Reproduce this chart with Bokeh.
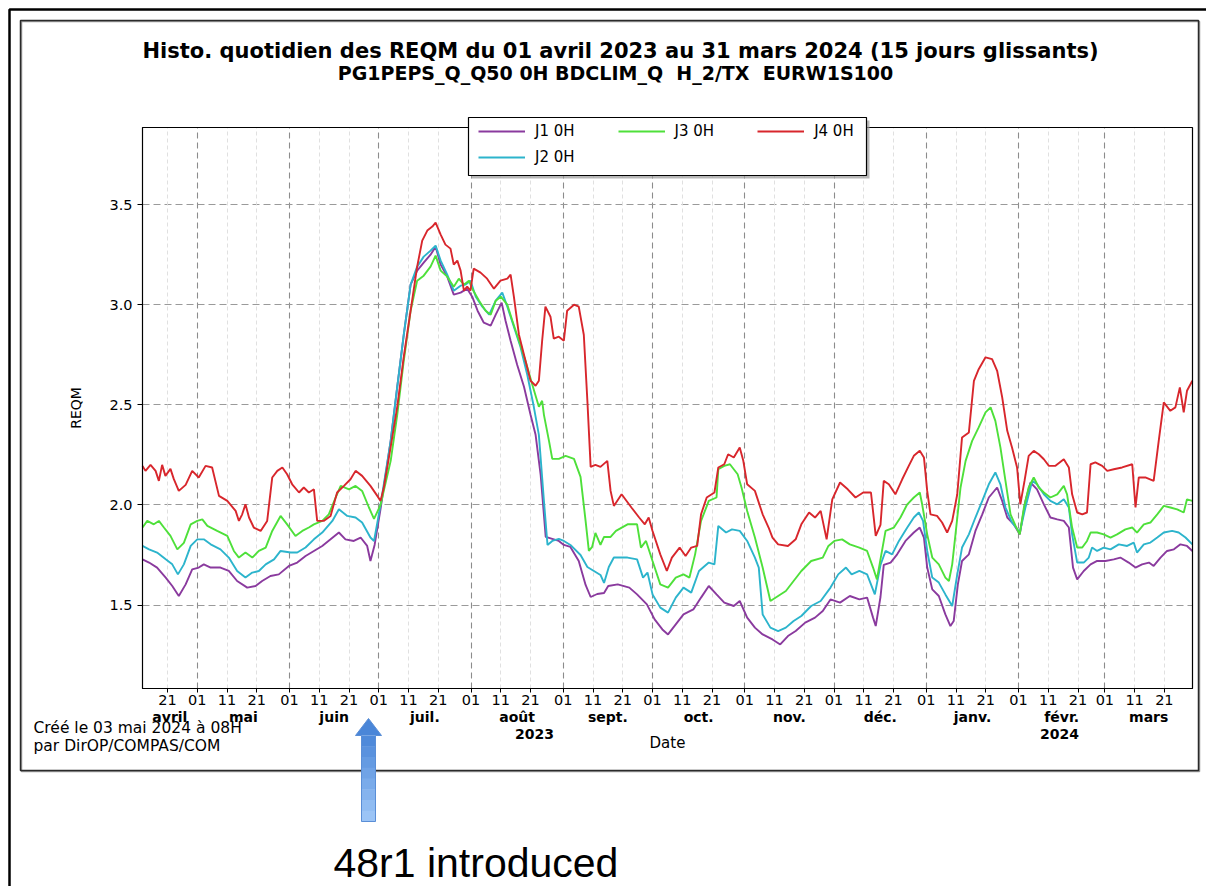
import datetime as dt

from bokeh.plotting import figure
from bokeh.models import (Range1d, FixedTicker, Grid, Label, BoxAnnotation,
                          PolyAnnotation, Legend, LegendItem, NumeralTickFormatter)
from bokeh.embed import file_html
from bokeh.resources import INLINE

# Day offsets are counted from 1 April 2023.
ORIGIN = dt.date(2023, 4, 1)

j1_days = [11.6, 13.8, 16.5, 19.4, 21.6, 23.8, 26.1, 28.3, 30.5, 32.2, 34.5, 37.8, 40.6, 43.4, 46.8, 49.6,
           51.8, 54.6, 57.4, 60.8, 63.6, 66.4, 69.2, 72.0, 74.8, 77.6, 79.8, 82.6, 84.9, 87.1, 88.2, 89.6,
           91.6, 95.0, 97.2, 99.4, 101.7, 103.9, 106.1, 108.4, 110.1, 111.8, 114.0, 116.2, 118.5, 120.7,
           122.4, 124.2, 126.3, 128.6, 130.3, 132.3, 133.6, 135.3, 137.5, 139.8, 142.0, 143.7, 145.4, 147.1,
           149.3, 151.5, 153.2, 155.4, 158.2, 160.5, 162.2, 164.4, 166.7, 168.1, 171.3, 175.2, 177.8, 181.1,
           183.7, 186.3, 188.2, 190.8, 193.4, 196.7, 199.3, 201.9, 204.5, 207.1, 210.3, 212.3, 214.8, 217.4,
           220.0, 223.3, 225.9, 228.5, 231.1, 234.3, 237.6, 240.2, 242.8, 246.0, 249.3, 252.5, 255.1, 257.1,
           258.0, 259.6, 260.7, 263.0, 265.2, 268.0, 270.8, 272.8, 274.2, 275.3, 277.0, 279.2, 281.4, 283.1,
           284.2, 285.6, 287.0, 289.3, 291.5, 293.8, 296.0, 298.8, 300.5, 302.2, 304.4, 306.4, 308.3, 310.0,
           312.2, 314.5, 316.7, 319.0, 321.2, 322.9, 324.3, 325.7, 327.9, 330.2, 332.4, 335.2, 338.0, 340.2,
           343.0, 345.3, 347.5, 349.8, 351.4, 353.7, 355.9, 358.2, 360.4, 362.6, 364.4]
j1_reqm = [1.728, 1.712, 1.687, 1.637, 1.595, 1.545, 1.603, 1.678, 1.687, 1.703, 1.687, 1.687, 1.670, 1.620,
           1.587, 1.595, 1.620, 1.645, 1.653, 1.695, 1.712, 1.745, 1.770, 1.795, 1.828, 1.862, 1.828, 1.820,
           1.837, 1.795, 1.720, 1.800, 1.980, 2.320, 2.590, 2.850, 3.100, 3.170, 3.210, 3.250, 3.290, 3.200,
           3.140, 3.050, 3.060, 3.080, 3.040, 2.970, 2.910, 2.895, 2.950, 3.010, 2.920, 2.820, 2.700, 2.590,
           2.450, 2.350, 2.150, 1.840, 1.830, 1.820, 1.800, 1.790, 1.720, 1.600, 1.540, 1.555, 1.560, 1.595,
           1.603, 1.587, 1.553, 1.503, 1.428, 1.378, 1.353, 1.403, 1.453, 1.478, 1.537, 1.595, 1.553, 1.512,
           1.495, 1.520, 1.437, 1.387, 1.353, 1.328, 1.303, 1.345, 1.370, 1.412, 1.437, 1.470, 1.528, 1.512,
           1.545, 1.528, 1.537, 1.437, 1.395, 1.540, 1.700, 1.712, 1.753, 1.820, 1.862, 1.887, 1.837, 1.687,
           1.578, 1.545, 1.453, 1.395, 1.420, 1.603, 1.720, 1.753, 1.870, 1.953, 2.037, 2.087, 2.020, 1.937,
           1.903, 1.853, 2.020, 2.112, 2.078, 2.003, 1.937, 1.928, 1.920, 1.887, 1.687, 1.628, 1.670, 1.703,
           1.720, 1.720, 1.728, 1.737, 1.712, 1.687, 1.703, 1.712, 1.695, 1.737, 1.770, 1.778, 1.803, 1.795,
           1.770]

j2_days = [11.6, 13.8, 16.5, 19.4, 21.6, 23.5, 25.5, 27.8, 30.0, 32.2, 34.5, 37.8, 40.6, 43.4, 46.2, 48.5,
           50.7, 53.0, 55.8, 58.0, 61.4, 63.6, 66.4, 69.2, 72.0, 75.4, 77.6, 80.4, 83.2, 85.4, 88.2, 89.4,
           91.6, 95.0, 97.2, 99.4, 101.7, 103.9, 106.1, 108.4, 110.1, 111.8, 114.0, 116.2, 118.5, 120.1,
           121.8, 123.6, 125.8, 128.1, 130.3, 132.5, 134.2, 136.4, 138.6, 140.9, 143.1, 144.8, 146.5, 147.7,
           149.3, 151.5, 153.2, 155.4, 158.8, 161.1, 163.3, 165.5, 166.7, 168.3, 170.0, 174.6, 177.8, 179.8,
           181.3, 183.0, 185.6, 188.2, 190.8, 193.4, 196.0, 198.6, 201.9, 203.8, 205.1, 207.7, 209.7, 212.3,
           214.8, 217.4, 218.7, 220.0, 222.6, 225.2, 227.8, 230.4, 233.0, 236.3, 239.5, 242.8, 245.4, 248.0,
           249.9, 252.5, 255.1, 257.7, 259.6, 261.3, 263.5, 265.8, 268.6, 270.8, 272.5, 273.9, 275.3, 277.0,
           279.2, 281.4, 283.7, 285.4, 287.0, 289.3, 291.5, 293.8, 296.0, 298.2, 299.9, 301.6, 303.8, 306.4,
           308.3, 310.6, 312.2, 314.5, 316.7, 319.0, 321.2, 322.9, 324.0, 325.7, 327.9, 329.6, 330.7, 332.4,
           334.6, 336.9, 339.7, 342.5, 344.7, 345.8, 348.1, 350.3, 352.6, 354.8, 357.6, 359.8, 362.1, 364.4]
j2_reqm = [1.795, 1.778, 1.762, 1.728, 1.703, 1.653, 1.703, 1.795, 1.828, 1.828, 1.803, 1.778, 1.737, 1.670,
           1.637, 1.662, 1.670, 1.703, 1.728, 1.770, 1.762, 1.762, 1.787, 1.828, 1.862, 1.920, 1.978, 1.945,
           1.937, 1.912, 1.837, 1.820, 2.000, 2.320, 2.590, 2.850, 3.100, 3.190, 3.240, 3.270, 3.295, 3.220,
           3.150, 3.070, 3.095, 3.100, 3.120, 3.040, 2.990, 2.950, 3.020, 3.060, 2.990, 2.890, 2.790, 2.650,
           2.490, 2.350, 2.020, 1.800, 1.820, 1.830, 1.820, 1.800, 1.750, 1.690, 1.670, 1.650, 1.610, 1.690,
           1.737, 1.737, 1.728, 1.637, 1.662, 1.553, 1.487, 1.462, 1.537, 1.587, 1.562, 1.670, 1.712, 1.703,
           1.895, 1.862, 1.878, 1.870, 1.820, 1.737, 1.687, 1.453, 1.387, 1.370, 1.387, 1.420, 1.445, 1.495,
           1.520, 1.587, 1.653, 1.687, 1.653, 1.670, 1.653, 1.553, 1.700, 1.770, 1.753, 1.820, 1.887, 1.937,
           1.962, 1.920, 1.770, 1.637, 1.612, 1.553, 1.495, 1.653, 1.787, 1.853, 1.937, 2.020, 2.103, 2.162,
           2.103, 1.987, 1.912, 1.862, 1.987, 2.120, 2.103, 2.053, 2.020, 2.003, 2.028, 1.987, 1.853, 1.712,
           1.712, 1.737, 1.787, 1.770, 1.787, 1.778, 1.803, 1.795, 1.812, 1.762, 1.803, 1.812, 1.837, 1.862,
           1.870, 1.862, 1.837, 1.803]

j3_days = [11.6, 13.2, 15.4, 17.1, 18.8, 21.0, 23.3, 25.5, 27.8, 30.0, 31.7, 33.4, 36.7, 40.1, 42.3, 44.0,
           46.2, 48.5, 50.7, 53.0, 55.2, 58.0, 60.2, 63.0, 65.3, 67.5, 69.2, 72.0, 74.2, 76.5, 78.2, 81.0,
           83.2, 85.4, 87.7, 89.4, 91.6, 95.0, 97.2, 99.4, 101.7, 103.9, 106.1, 108.4, 110.1, 111.8, 114.0,
           116.2, 117.9, 119.6, 121.3, 122.4, 124.7, 126.9, 128.6, 130.3, 132.0, 134.2, 135.9, 138.1, 140.3,
           142.6, 144.8, 145.9, 146.5, 148.2, 149.3, 151.5, 153.8, 156.6, 158.8, 160.5, 161.6, 162.7, 163.8,
           165.5, 166.7, 168.9, 170.7, 174.6, 177.8, 179.1, 180.8, 183.0, 185.6, 188.2, 190.8, 193.4, 195.4,
           197.3, 199.3, 201.9, 204.5, 205.1, 207.1, 209.0, 211.6, 212.9, 214.8, 217.4, 220.0, 222.6, 225.2,
           227.8, 230.4, 233.0, 236.3, 240.2, 242.1, 244.1, 246.7, 249.3, 252.5, 255.1, 257.1, 258.4, 261.3,
           264.1, 266.3, 268.6, 270.8, 272.8, 273.6, 275.3, 277.0, 279.2, 281.4, 282.6, 283.7, 284.8, 286.5,
           288.2, 290.4, 292.6, 294.9, 296.6, 298.2, 299.9, 301.6, 303.3, 305.0, 306.4, 307.8, 309.4, 311.1,
           312.8, 314.5, 316.7, 319.0, 321.2, 322.3, 324.0, 325.7, 327.4, 329.0, 330.2, 332.4, 334.6, 336.9,
           339.1, 341.9, 344.2, 345.8, 348.1, 350.3, 352.6, 354.8, 357.0, 359.3, 361.5, 362.6, 364.4]
j3_reqm = [1.887, 1.920, 1.903, 1.920, 1.887, 1.845, 1.778, 1.810, 1.903, 1.920, 1.928, 1.895, 1.870, 1.845,
           1.770, 1.737, 1.762, 1.737, 1.770, 1.787, 1.870, 1.945, 1.903, 1.845, 1.870, 1.887, 1.903, 1.920,
           1.953, 2.037, 2.095, 2.078, 2.095, 2.070, 1.987, 1.930, 2.000, 2.220, 2.450, 2.720, 2.970, 3.120,
           3.145, 3.190, 3.245, 3.170, 3.140, 3.090, 3.130, 3.100, 3.120, 3.080, 3.020, 2.970, 2.950, 3.020,
           3.040, 3.000, 2.920, 2.820, 2.720, 2.600, 2.490, 2.520, 2.450, 2.320, 2.230, 2.230, 2.245, 2.230,
           2.140, 1.920, 1.770, 1.790, 1.860, 1.800, 1.840, 1.840, 1.870, 1.903, 1.903, 1.787, 1.820, 1.720,
           1.603, 1.587, 1.637, 1.653, 1.637, 1.753, 1.920, 2.020, 2.037, 2.178, 2.195, 2.203, 2.153, 2.087,
           1.970, 1.837, 1.687, 1.520, 1.545, 1.570, 1.620, 1.670, 1.720, 1.737, 1.795, 1.820, 1.828, 1.803,
           1.787, 1.770, 1.687, 1.628, 1.870, 1.887, 1.937, 2.003, 2.037, 2.062, 2.003, 1.853, 1.737, 1.703,
           1.637, 1.620, 1.703, 1.853, 2.087, 2.220, 2.320, 2.387, 2.462, 2.487, 2.420, 2.287, 2.120, 1.953,
           1.895, 1.853, 1.987, 2.087, 2.137, 2.087, 2.062, 2.037, 2.053, 2.095, 2.053, 1.887, 1.787, 1.787,
           1.820, 1.862, 1.862, 1.853, 1.837, 1.853, 1.878, 1.887, 1.862, 1.903, 1.912, 1.953, 1.995, 1.987,
           1.978, 1.962, 2.028, 2.020]

j4_days = [11.6, 12.6, 14.3, 16.0, 17.1, 18.2, 19.3, 21.0, 22.1, 23.8, 26.1, 28.3, 30.5, 32.8, 35.0, 37.3,
           40.1, 42.9, 44.0, 45.1, 46.2, 47.4, 49.0, 51.3, 53.5, 55.2, 56.9, 58.6, 60.2, 61.9, 64.2, 65.8,
           67.5, 69.2, 70.3, 72.5, 74.8, 77.0, 79.3, 81.5, 83.2, 85.4, 88.2, 90.5, 91.6, 92.7, 95.0, 97.2,
           99.4, 101.7, 103.9, 105.6, 107.3, 109.0, 110.1, 111.8, 113.4, 115.1, 116.2, 117.4, 118.5, 119.6,
           120.7, 121.8, 122.9, 125.2, 127.4, 129.7, 131.9, 134.2, 135.3, 136.4, 138.1, 140.3, 142.0, 143.7,
           144.8, 145.9, 147.0, 148.7, 149.8, 151.5, 153.2, 154.3, 156.6, 158.2, 159.9, 161.1, 162.2, 163.8,
           165.5, 167.8, 168.9, 170.0, 172.6, 175.9, 178.5, 180.4, 181.7, 183.0, 185.6, 187.8, 189.5, 192.1,
           194.1, 196.0, 198.0, 199.3, 201.2, 203.8, 205.1, 207.1, 208.4, 210.3, 212.3, 213.5, 214.8, 217.4,
           220.0, 222.0, 223.3, 225.2, 228.5, 231.1, 233.0, 235.6, 237.6, 239.5, 241.5, 243.4, 246.0, 248.6,
           251.2, 253.8, 256.4, 258.0, 259.6, 260.7, 262.4, 264.6, 266.9, 269.1, 270.8, 272.8, 274.2, 275.3,
           276.4, 278.6, 280.3, 282.0, 283.7, 285.4, 287.0, 289.3, 291.0, 292.6, 294.9, 297.1, 298.8, 300.5,
           302.2, 303.8, 305.5, 306.6, 308.0, 309.4, 311.1, 312.8, 314.5, 316.2, 318.4, 321.2, 322.9, 324.0,
           325.7, 327.4, 329.0, 330.2, 331.8, 334.1, 335.8, 338.0, 340.8, 344.2, 345.3, 346.4, 348.6, 351.4,
           353.1, 354.8, 357.0, 358.7, 360.2, 361.5, 362.6, 364.4]
j4_reqm = [2.195, 2.170, 2.200, 2.170, 2.120, 2.200, 2.145, 2.180, 2.130, 2.070, 2.100, 2.170, 2.137, 2.195,
           2.187, 2.045, 2.020, 1.970, 1.920, 1.953, 2.003, 1.937, 1.887, 1.870, 1.920, 2.137, 2.170, 2.187,
           2.153, 2.103, 2.062, 2.087, 2.062, 2.078, 1.920, 1.920, 1.945, 2.062, 2.095, 2.128, 2.170, 2.145,
           2.095, 2.045, 2.020, 2.087, 2.290, 2.490, 2.740, 2.970, 3.190, 3.320, 3.370, 3.390, 3.410, 3.350,
           3.300, 3.280, 3.200, 3.220, 3.170, 3.070, 3.090, 3.070, 3.180, 3.160, 3.130, 3.080, 3.120, 3.130,
           3.150, 3.040, 2.850, 2.720, 2.620, 2.595, 2.620, 2.820, 2.990, 2.940, 2.830, 2.840, 2.820, 2.970,
           3.000, 2.990, 2.850, 2.520, 2.190, 2.200, 2.190, 2.220, 2.070, 1.995, 2.053, 1.987, 1.937, 1.903,
           1.937, 1.870, 1.753, 1.670, 1.737, 1.787, 1.745, 1.787, 1.795, 1.953, 2.037, 2.062, 2.187, 2.203,
           2.253, 2.237, 2.287, 2.220, 2.103, 2.070, 1.953, 1.887, 1.837, 1.803, 1.795, 1.828, 1.903, 1.962,
           1.937, 1.970, 1.828, 2.028, 2.112, 2.078, 2.037, 2.062, 2.062, 1.845, 1.900, 2.120, 2.103, 2.053,
           2.128, 2.195, 2.245, 2.270, 2.237, 2.070, 1.953, 1.945, 1.912, 1.862, 1.920, 2.053, 2.337, 2.362,
           2.620, 2.678, 2.737, 2.728, 2.670, 2.537, 2.370, 2.287, 2.187, 2.003, 2.120, 2.245, 2.270, 2.253,
           2.228, 2.195, 2.195, 2.228, 2.187, 2.053, 1.962, 1.953, 1.962, 2.203, 2.212, 2.195, 2.170, 2.178,
           2.187, 2.203, 1.987, 2.137, 2.137, 2.120, 2.320, 2.512, 2.470, 2.487, 2.587, 2.462, 2.570, 2.620]

series_names = ["J1 0H", "J2 0H", "J3 0H", "J4 0H"]
series_colors = ["#8a3a9e", "#2cb4cc", "#4ee03a", "#d8262c"]

month_names = ["avril", "mai", "juin", "juil.", "août", "sept.",
               "oct.", "nov.", "déc.", "janv.", "févr.", "mars"]
year_names = ["2023", "2024"]
tick_days_of_month = [1, 11, 21]
y_ticks = [1.5, 2.0, 2.5, 3.0, 3.5]

TITLE = "Histo. quotidien des REQM du 01 avril 2023 au 31 mars 2024 (15 jours glissants)"
# a no-break space keeps the wider gaps between the code groups
SUBTITLE = "PG1PEPS_Q_Q50 0H BDCLIM_Q\u00a0 H_2/TX\u00a0 EURW1S100"
CREATED = "Créé le 03 mai 2024 à 08H"
AUTHOR = "par DirOP/COMPAS/COM"
NOTE = "48r1 introduced"

# visible extent of the chart axes
X_START, X_END = 11.6, 364.45
Y_START, Y_END = 1.083, 3.885

# page geometry (pixels, origin top-left); the chart box sits inside the page
W, H = 1206, 886
BL, BT, BR, BB = 142, 127, 1192, 688
kx = (X_END - X_START) / (BR - BL)
ky = (Y_END - Y_START) / (BB - BT)
PAGE_X = (X_START - BL * kx, X_END + (W - BR) * kx)
PAGE_Y = (Y_START - (H - BB) * ky, Y_END + BT * ky)


def sx(px):
    return px


def sy(py):
    return H - py


def month_start(i):
    y = 2023 + (3 + i) // 12
    m = (3 + i) % 12 + 1
    return dt.date(y, m, 1)


def offset(d):
    return (d - ORIGIN).days


month_starts = [offset(month_start(i)) for i in range(13)]
tick_days, tick_text = [], {}
for i in range(12):
    ms = month_start(i)
    for dd in tick_days_of_month:
        t = offset(dt.date(ms.year, ms.month, dd))
        if X_START <= t <= X_END:
            tick_days.append(t)
            tick_text[t] = f"{dd:02d}"
minor_days = [t for t in tick_days if t not in month_starts]
grid_months = [t for t in month_starts if X_START < t < X_END]

p = figure(width=W, height=H, output_backend="svg", toolbar_location=None, title=None,
           x_range=Range1d(*PAGE_X), y_range=Range1d(*PAGE_Y),
           min_border_left=0, min_border_right=0, min_border_top=0, min_border_bottom=0)
p.background_fill_color = "white"
p.border_fill_color = "white"
p.outline_line_color = None

# axes pinned to the chart box
xa = p.xaxis[0]
xa.fixed_location = Y_START
xa.bounds = (X_START, X_END)
xa.ticker = FixedTicker(ticks=tick_days, minor_ticks=[])
xa.major_label_overrides = tick_text
xa.major_label_text_font = "DejaVu Sans"
xa.major_label_text_font_size = "14.5px"
xa.major_label_text_color = "black"
xa.major_tick_out = 4
xa.major_tick_in = 0
xa.major_label_standoff = 2
xa.axis_line_color = "black"
xa.major_tick_line_color = "black"
xa.axis_label = "Date"
xa.axis_label_text_font = "DejaVu Sans"
xa.axis_label_text_font_size = "15px"
xa.axis_label_text_font_style = "normal"
xa.axis_label_text_color = "black"
xa.axis_label_standoff = 26

ya = p.yaxis[0]
ya.fixed_location = X_START
ya.bounds = (Y_START, Y_END)
ya.ticker = FixedTicker(ticks=y_ticks, minor_ticks=[])
ya.formatter = NumeralTickFormatter(format="0.0")
ya.major_label_text_font = "DejaVu Sans"
ya.major_label_text_font_size = "14.5px"
ya.major_label_text_color = "black"
ya.major_tick_out = 5
ya.major_tick_in = 0
ya.major_label_standoff = 5
ya.axis_line_color = "black"
ya.major_tick_line_color = "black"
ya.axis_label = "REQM"
ya.axis_label_text_font = "DejaVu Sans"
ya.axis_label_text_font_size = "14px"
ya.axis_label_text_font_style = "normal"
ya.axis_label_text_color = "black"
ya.axis_label_standoff = 22

# grids limited to the chart box
p.xgrid[0].ticker = FixedTicker(ticks=grid_months)
p.xgrid[0].cross_bounds = (Y_START, Y_END)
p.xgrid[0].grid_line_color = "#8c8c8c"
p.xgrid[0].grid_line_dash = "6 4"
p.xgrid[0].grid_line_width = 1.1
p.add_layout(Grid(dimension=0, ticker=FixedTicker(ticks=minor_days), cross_bounds=(Y_START, Y_END),
                  grid_line_color="#dcdcdc", grid_line_dash="4 3", grid_line_width=0.9))
p.ygrid[0].ticker = FixedTicker(ticks=y_ticks)
p.ygrid[0].cross_bounds = (X_START, X_END)
p.ygrid[0].grid_line_color = "#9a9a9a"
p.ygrid[0].grid_line_dash = "7 4"
p.ygrid[0].grid_line_width = 1.2

# series
renderers = []
for xs, ys, color in zip([j1_days, j2_days, j3_days, j4_days],
                         [j1_reqm, j2_reqm, j3_reqm, j4_reqm], series_colors):
    renderers.append(p.line(xs, ys, line_color=color, line_width=1.9))

# chart box outline
p.add_layout(BoxAnnotation(left=X_START, right=X_END, bottom=Y_START, top=Y_END,
                           fill_alpha=0, line_color="black", line_alpha=1, line_width=1.2))

# month and year labels under the day ticks
for i, name in enumerate(month_names):
    lo = max(X_START, month_starts[i])
    hi = min(X_END, month_starts[i + 1])
    p.add_layout(Label(x=(lo + hi) / 2, y=sy(716), x_units="data", y_units="screen", text=name,
                       text_font="DejaVu Sans", text_font_size="14px", text_font_style="bold",
                       text_align="center", text_baseline="middle", text_color="black"))
new_year = offset(dt.date(2024, 1, 1))
for (lo, hi), name in zip([(X_START, new_year), (new_year, X_END)], year_names):
    p.add_layout(Label(x=(lo + hi) / 2, y=sy(733), x_units="data", y_units="screen", text=name,
                       text_font="DejaVu Sans", text_font_size="14px", text_font_style="bold",
                       text_align="center", text_baseline="middle", text_color="black"))


def box(l, t, r, b, **kw):
    p.add_layout(BoxAnnotation(left=sx(l), right=sx(r), top=sy(t), bottom=sy(b),
                               left_units="screen", right_units="screen",
                               top_units="screen", bottom_units="screen", **kw))


def text(px, py, s, size, bold=False, align="left", font="DejaVu Sans", baseline="middle"):
    p.add_layout(Label(x=sx(px), y=sy(py), x_units="screen", y_units="screen", text=s,
                       text_font=font, text_font_size=f"{size}px",
                       text_font_style="bold" if bold else "normal",
                       text_align=align, text_baseline=baseline, text_color="black"))


# page frames
box(9, 9, 1215, 895, fill_alpha=0, line_color="black", line_alpha=1, line_width=2.5)
box(21, 21, 1199, 771, fill_alpha=0, line_color="#9a9a9a", line_alpha=1, line_width=1.5)
box(20, 20, 1198, 770, fill_alpha=0, line_color="#2a2a2a", line_alpha=1, line_width=1.5)

# legend box with drop shadow
box(471, 120, 869, 178, fill_color="#9a9a9a", fill_alpha=0.7, line_alpha=0)
box(468, 117, 866, 175, fill_color="white", fill_alpha=1, line_color="black", line_alpha=1,
    line_width=1.2)

leg_common = dict(orientation="horizontal", padding=0, margin=0, spacing=43,
                  glyph_width=47, glyph_height=20, label_height=20, label_standoff=10,
                  label_text_font="DejaVu Sans", label_text_font_size="15px",
                  label_text_color="black",
                  border_line_alpha=0, background_fill_alpha=0)
legend_row1 = Legend(items=[LegendItem(label=series_names[0], renderers=[renderers[0]]),
                            LegendItem(label=series_names[2], renderers=[renderers[2]]),
                            LegendItem(label=series_names[3], renderers=[renderers[3]])],
                     location=(sx(478), sy(141)), **leg_common)
legend_row2 = Legend(items=[LegendItem(label=series_names[1], renderers=[renderers[1]])],
                     location=(sx(478), sy(167)), **leg_common)
p.add_layout(legend_row1)
p.add_layout(legend_row2)

# titles and credits
text(620, 50, TITLE, 21, bold=True, align="center")
text(615, 72, SUBTITLE, 19, bold=True, align="center")
text(33, 727, CREATED, 15.5)
text(33, 745, AUTHOR, 15.5)

# upward arrow marking the model change, shaded darker at the top
ax_c, tip, head_base, base = 368, 718, 735, 821
shaft_l, shaft_r = ax_c - 7, ax_c + 7
n_bands = 8
top_rgb, bottom_rgb = (74, 134, 216), (160, 200, 248)
band_h = (base - head_base) / n_bands
for k in range(n_bands):
    f = (k + 0.5) / n_bands
    rgb = tuple(round(a + (b - a) * f) for a, b in zip(top_rgb, bottom_rgb))
    box(shaft_l, head_base + k * band_h, shaft_r, head_base + (k + 1) * band_h + 0.5,
        fill_color="#%02x%02x%02x" % rgb, fill_alpha=1, line_alpha=0)
head_x = [ax_c, ax_c + 13, ax_c - 13]
head_y = [tip, head_base, head_base]
p.add_layout(PolyAnnotation(xs=[sx(v) for v in head_x], ys=[sy(v) for v in head_y],
                            xs_units="screen", ys_units="screen",
                            fill_color="#4a86d8", fill_alpha=1, line_alpha=0))
outline_x = [ax_c, ax_c + 13, shaft_r, shaft_r, shaft_l, shaft_l, ax_c - 13]
outline_y = [tip, head_base, head_base, base, base, head_base, head_base]
p.add_layout(PolyAnnotation(xs=[sx(v) for v in outline_x], ys=[sy(v) for v in outline_y],
                            xs_units="screen", ys_units="screen",
                            fill_alpha=0, line_color="#5a8ed6", line_alpha=1, line_width=1))

text(333, 862, NOTE, 41, font="Liberation Sans")

open("out.html", "w").write(file_html(p, INLINE))
